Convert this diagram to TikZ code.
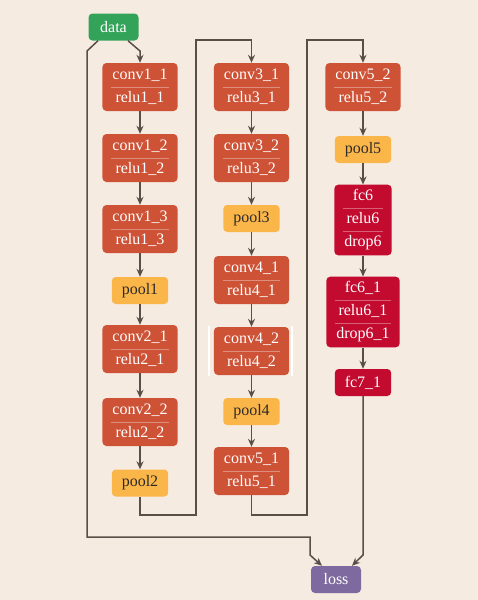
\documentclass[tikz,border=0pt]{standalone}
\usepackage{fontspec}
\setmainfont{Liberation Serif}
\usetikzlibrary{arrows.meta}
\definecolor{bgcol}{HTML}{F6EBE1}
\definecolor{convcol}{HTML}{CD5236}
\definecolor{poolcol}{HTML}{FBB64A}
\definecolor{fccol}{HTML}{C20B2F}
\definecolor{datacol}{HTML}{34A35A}
\definecolor{losscol}{HTML}{7F6A9F}
\definecolor{edgecol}{HTML}{5A4F48}
\definecolor{textdark}{HTML}{2E2A28}
\tikzset{
  layer/.style={rounded corners=4pt, text=white, inner xsep=10pt, inner ysep=5pt,
    minimum width=50pt, align=center, font=\fontsize{16}{23}\selectfont},
  convbox/.style={layer, fill=convcol, minimum width=75pt, minimum height=48pt},
  poolbox/.style={layer, fill=poolcol, text=textdark, minimum height=27pt},
  fcbox/.style={layer, fill=fccol, minimum height=27pt},
  databox/.style={layer, fill=datacol, minimum height=27pt},
  lossbox/.style={layer, fill=losscol, minimum height=27pt},
  sepline/.style={draw=white, opacity=0.35, line width=0.8pt},
  edge/.style={draw=edgecol, line width=1.5pt, -{Stealth[length=8pt,width=7pt]}},
}
\begin{document}
\begin{tikzpicture}[x=1pt,y=-1pt]
\fill[bgcol] (0,0) rectangle (478,600);
\useasboundingbox (0,0) rectangle (478,600);

% first column
\node[databox] (data) at (113.5,27) {data};
\node[convbox] (c11) at (140,87) {conv1\_1\\relu1\_1};
\node[convbox] (c12) at (140,158) {conv1\_2\\relu1\_2};
\node[convbox] (c13) at (140,229) {conv1\_3\\relu1\_3};
\node[poolbox] (p1) at (140,290.5) {pool1};
\node[convbox] (c21) at (140,349) {conv2\_1\\relu2\_1};
\node[convbox] (c22) at (140,422) {conv2\_2\\relu2\_2};
\node[poolbox] (p2) at (140,483) {pool2};

% second column
\node[convbox] (c31) at (251.5,87) {conv3\_1\\relu3\_1};
\node[convbox] (c32) at (251.5,158) {conv3\_2\\relu3\_2};
\node[poolbox] (p3) at (251.5,218.5) {pool3};
\node[convbox] (c41) at (251.5,280) {conv4\_1\\relu4\_1};
\node[convbox] (c42) at (251.5,351) {conv4\_2\\relu4\_2};
\node[poolbox] (p4) at (251.5,411.5) {pool4};
\node[convbox] (c51) at (251.5,471) {conv5\_1\\relu5\_1};
\draw[white, line width=2pt] (208.5,326) -- (208.5,376);
\draw[white, line width=2pt] (292,326) -- (292,376);

% third column
\node[convbox] (c52) at (363,87) {conv5\_2\\relu5\_2};
\node[poolbox] (p5) at (363,149.5) {pool5};
\node[fcbox] (fc6) at (363,220) {fc6\\relu6\\drop6};
\node[fcbox] (fc61) at (363,312) {fc6\_1\\relu6\_1\\drop6\_1};
\node[fcbox] (fc7) at (363,382.5) {fc7\_1};
\node[lossbox] (loss) at (336,579.5) {loss};

\foreach \n in {c11,c12,c13,c21,c22,c31,c32,c41,c42,c51,c52}
  \draw[sepline] ([xshift=9pt]\n.west) -- ([xshift=-9pt]\n.east);
\foreach \n in {fc6,fc61} {
  \draw[sepline] ([xshift=9pt,yshift=11.5pt]\n.west) -- ([xshift=-9pt,yshift=11.5pt]\n.east);
  \draw[sepline] ([xshift=9pt,yshift=-11.5pt]\n.west) -- ([xshift=-9pt,yshift=-11.5pt]\n.east);
}

% connectors
\draw[edge] ([xshift=14.5pt]data.south) -- (140,51) -- (c11);
\draw[edge] (c11) -- (c12);
\draw[edge] (c12) -- (c13);
\draw[edge] (c13) -- (p1);
\draw[edge] (p1) -- (c21);
\draw[edge] (c21) -- (c22);
\draw[edge] (c22) -- (p2);
\draw[edge] (p2) |- (196,515) |- (251.5,40) -- (c31);
\draw[edge] (c31) -- (c32);
\draw[edge] (c32) -- (p3);
\draw[edge] (p3) -- (c41);
\draw[edge] (c41) -- (c42);
\draw[edge] (c42) -- (p4);
\draw[edge] (p4) -- (c51);
\draw[edge] (c51) |- (307,515) |- (363,40) -- (c52);
\draw[edge] (c52) -- (p5);
\draw[edge] (p5) -- (fc6);
\draw[edge] (fc6) -- (fc61);
\draw[edge] (fc61) -- (fc7);
\draw[edge] ([xshift=-15.5pt]data.south) -- (87,51) -- (87,537) -- (310,537)
  -- (310,555) -- ([xshift=-14pt]loss.north);
\draw[edge] (fc7) -- (363,555) -- ([xshift=16pt]loss.north);
\end{tikzpicture}
\end{document}
